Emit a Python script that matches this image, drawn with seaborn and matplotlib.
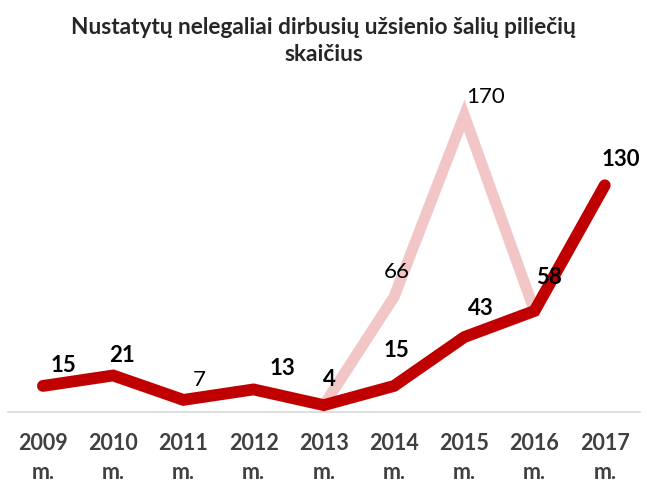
import numpy as np
import pandas as pd
import matplotlib
matplotlib.use("Agg")
import matplotlib.pyplot as plt
import seaborn as sns

# data
years = ["2009", "2010", "2011", "2012", "2013", "2014", "2015", "2016", "2017"]
main_values = [15, 21, 7, 13, 4, 15, 43, 58, 130]
alt_years = ["2013", "2014", "2015", "2016"]
alt_values = [4, 66, 170, 58]

sns.set_theme(style="white")
plt.rcParams['font.family'] = ['Lato', 'DejaVu Sans']

main_df = pd.DataFrame({"pos": range(len(years)), "value": main_values})
alt_df = pd.DataFrame({"pos": [years.index(y) for y in alt_years], "value": alt_values})

fig = plt.figure(figsize=(6.47, 4.82), dpi=100)
ax = fig.add_axes([0.012, 0.145, 0.977, 0.724])

sns.lineplot(data=alt_df, x="pos", y="value", ax=ax, color="#F2C6C6",
             linewidth=8, solid_capstyle="round", solid_joinstyle="miter", zorder=2)
sns.lineplot(data=main_df, x="pos", y="value", ax=ax, color="#C00000",
             linewidth=8.5, solid_capstyle="round", solid_joinstyle="miter", zorder=3)

# label offsets in pixels (dx, dy), picked to mimic the original placement
main_offsets = [(21, 20), (9, 20), (16, 20), (29, 21), (6, 26), (2, 35), (17, 29), (14, 33), (16, 26)]
for i, (v, off) in enumerate(zip(main_values, main_offsets)):
    weight = "normal" if v == 7 else "bold"
    ax.annotate(str(v), (i, v), xytext=off, textcoords="offset pixels",
                ha="center", va="center", fontsize=16, fontweight=weight,
                color="black", zorder=5)

alt_offsets = [(3, 25), (21, 18)]
for y, v, off in zip(alt_years[1:3], alt_values[1:3], alt_offsets):
    ax.annotate(str(v), (years.index(y), v), xytext=off, textcoords="offset pixels",
                ha="center", va="center", fontsize=16, color="black", zorder=5)

ax.set_xlim(-0.5, len(years) - 0.5)
ax.set_ylim(0, 200)
ax.set_xticks(range(len(years)))
ax.set_xticklabels([f"{y}\nm." for y in years], fontsize=15.5, fontweight="bold",
                   color="#404040", linespacing=1.45)
ax.tick_params(axis="x", length=0, pad=15)
ax.set_yticks([])
ax.set_xlabel("")
ax.set_ylabel("")
for side in ["left", "right", "top"]:
    ax.spines[side].set_visible(False)
ax.spines["bottom"].set_color("#D9D9D9")
ax.spines["bottom"].set_linewidth(1.2)

fig.text(0.5, 0.914, "Nustatytų nelegaliai dirbusių užsienio šalių piliečių\nskaičius",
         ha="center", va="center", fontsize=16.3, fontweight="bold", linespacing=1.35)

fig.savefig("out.png", dpi=100)
